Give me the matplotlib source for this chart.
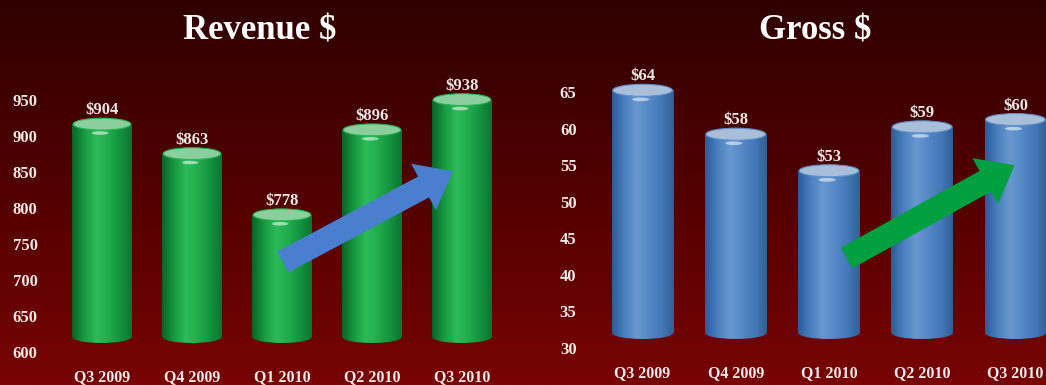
import matplotlib
matplotlib.use("Agg")
import matplotlib.pyplot as plt
import matplotlib.transforms as mtransforms
from matplotlib.colors import LinearSegmentedColormap
from matplotlib.patches import Ellipse
import numpy as np

quarters = ["Q3 2009", "Q4 2009", "Q1 2010", "Q2 2010", "Q3 2010"]
revenue = [904, 863, 778, 896, 938]
gross = [64, 58, 53, 59, 60]
revenue_ticks = [600, 650, 700, 750, 800, 850, 900, 950]
gross_ticks = [30, 35, 40, 45, 50, 55, 60, 65]

plt.rcParams['font.family'] = ['Liberation Serif', 'DejaVu Serif']
plt.rcParams['font.weight'] = 'bold'
txt_color = "#f2e8e8"

fig = plt.figure(figsize=(10.46, 3.85), dpi=100)

# dark red background gradient
bg = fig.add_axes([0, 0, 1, 1], zorder=-10)
bg_cmap = LinearSegmentedColormap.from_list("bg", ["#300000", "#520000", "#780404"])
bg.imshow(np.linspace(0, 1, 256).reshape(-1, 1), aspect='auto', cmap=bg_cmap,
          extent=[0, 1, 0, 1], origin='upper')
bg.axis('off')

green = LinearSegmentedColormap.from_list(
    "g", ["#0b6427", "#179a40", "#2cbb58", "#22ad4c", "#139440", "#0c7530"])
blue = LinearSegmentedColormap.from_list(
    "b", ["#2d5c98", "#4a7fbf", "#6898d0", "#5488c6", "#4479b8", "#335f97"])
shade = np.linspace(0, 1, 100).reshape(1, -1)


def cylinders(ax, values, base, cmap, cap_color, cap_h):
    # 3d-ish shift of the bars above the axis floor
    tr = ax.transData + mtransforms.ScaledTranslation(0, 9 / 100, fig.dpi_scale_trans)
    x = np.arange(len(values))
    w = 0.66
    heights = np.array(values) - (base + cap_h / 2)
    bars = ax.bar(x, heights, bottom=base + cap_h / 2, width=w, color=cmap(0.4),
                  transform=tr, zorder=2, clip_on=False)
    for b, v in zip(bars, values):
        x0 = b.get_x()
        xc = x0 + w / 2
        im = ax.imshow(shade, cmap=cmap, aspect='auto', extent=[x0, x0 + w, base, v],
                       transform=tr, zorder=2.1)
        im.set_clip_path(b)
        e = Ellipse((xc, base + cap_h / 2), w, cap_h, transform=tr,
                    facecolor='none', edgecolor='none', clip_on=False)
        ax.add_patch(e)
        im2 = ax.imshow(shade, cmap=cmap, aspect='auto', extent=[x0, x0 + w, base, v],
                        transform=tr, zorder=2.1)
        im2.set_clip_path(e)
        ax.add_patch(Ellipse((xc, v), w * 0.97, cap_h, transform=tr, clip_on=False,
                             facecolor=cap_color, edgecolor=cmap(0.5), lw=0.8, zorder=3))
        ax.add_patch(Ellipse((xc - 0.02, v - cap_h * 0.75), w * 0.28, cap_h * 0.3,
                             transform=tr, facecolor='white', alpha=0.55, clip_on=False,
                             edgecolor='none', zorder=3))
        ax.annotate(f"${v}", (xc, v + cap_h / 2), xycoords=tr, xytext=(0, 0),
                    textcoords='offset points', ha='center', va='bottom',
                    color=txt_color, fontsize=12, fontweight='bold')


def style(ax, ticks, title, title_x):
    ax.set_facecolor('none')
    ax.set_xlim(-0.5, 4.5)
    ax.set_ylim(ticks[0], ticks[-1])
    ax.set_yticks(ticks)
    ax.set_xticks(range(len(quarters)))
    ax.set_xticklabels(quarters)
    ax.tick_params(axis='y', length=0, pad=14, colors=txt_color, labelsize=12)
    ax.tick_params(axis='x', length=0, pad=12.5, colors=txt_color, labelsize=11.5)
    for s in ax.spines.values():
        s.set_visible(False)
    fig.text(title_x, 1 - 31 / 385, title, ha='center', va='center',
             color='white', fontsize=25, fontweight='bold')


ax1 = fig.add_axes([57 / 1046, 33 / 385, 450 / 1046, 252 / 385])
cylinders(ax1, revenue, revenue_ticks[0], green, "#8ccf9e", 16.5)
style(ax1, revenue_ticks, "Revenue $", 260 / 1046)
ax1.annotate("", xy=(3.9, 851), xytext=(2.01, 725),
             arrowprops=dict(arrowstyle="simple,head_length=1.2,head_width=1.9,tail_width=0.85",
                             mutation_scale=20, fc="#4a7fd0", ec="none",
                             shrinkA=0, shrinkB=0), zorder=5)

ax2 = fig.add_axes([596 / 1046, 37 / 385, 466 / 1046, 256 / 385])
cylinders(ax2, gross, gross_ticks[0], blue, "#a9bfd9", 1.65)
style(ax2, gross_ticks, "Gross $", 815 / 1046)
ax2.annotate("", xy=(3.99, 55.0), xytext=(2.19, 42.3),
             arrowprops=dict(arrowstyle="simple,head_length=1.2,head_width=1.9,tail_width=0.85",
                             mutation_scale=20, fc="#00a040", ec="none",
                             shrinkA=0, shrinkB=0), zorder=5)

fig.savefig("out.png", dpi=100)
